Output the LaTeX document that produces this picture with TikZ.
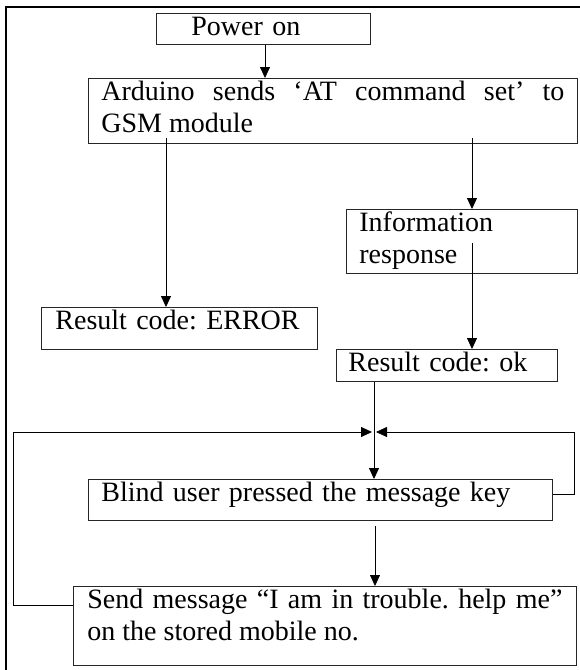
\documentclass[tikz,border=0pt]{standalone}
\usepackage{fontspec}
\setmainfont{Liberation Serif}
\usetikzlibrary{arrows.meta}
\frenchspacing
\hyphenpenalty=10000

\tikzset{
  stepbox/.style={draw=black!85, line width=0.8pt, anchor=north west,
    inner ysep=3pt, text height=19pt, align=left,
    font=\fontsize{28}{32}\selectfont},
  flow/.style={draw, line width=0.8pt, -{Triangle[length=11pt,width=10pt]}}
}

\begin{document}
\begin{tikzpicture}[x=1pt,y=-1pt]
  \useasboundingbox (0,0) rectangle (579,670);
  % outer frame, open at the right and bottom
  \draw[line width=2pt] (6,690) -- (6,7) -- (600,7);

  % the steps
  \node[stepbox, inner xsep=35pt, text width=144pt, text depth=6pt] (power) at (156,13) {Power on};
  \node[stepbox, inner xsep=13pt, text width=463pt, text depth=40pt, align=justify] (arduino) at (88,78)
    {Arduino sends ‘AT command set’ to\linebreak GSM module};
  \node[stepbox, inner xsep=14pt, text width=248pt, text depth=17pt] (error) at (41,307) {Result code: ERROR};
  \node[stepbox, inner xsep=13pt, text width=205pt, text depth=39pt] (info) at (346,209) {Information\\response};
  \node[stepbox, inner xsep=12pt, text width=197pt, text depth=7pt] (ok) at (336,349) {Result code: ok};
  \node[stepbox, inner xsep=13pt, text width=438pt, text depth=16pt] (blind) at (88,479) {Blind user pressed the message key};
  \node[stepbox, inner xsep=14pt, text width=475pt, text depth=54pt, align=justify] (send) at (73,586)
    {Send message “I am in trouble. help me”\linebreak on the stored mobile no.};

  % where the two loops come back in
  \coordinate (join) at (374,432);
  \coordinate (leftrail) at (13,432);
  \coordinate (rightrail) at (574,432);

  % straight arrows
  \draw[flow] ([xshift=109pt]power.south west) -- ([xshift=177pt]arduino.north west);
  \draw[flow] ([xshift=78pt,yshift=6pt]arduino.south west) -- ([xshift=125pt]error.north west);
  \draw[flow] ([xshift=384pt,yshift=6pt]arduino.south west) -- ([xshift=126pt]info.north west);
  \draw[flow] ([xshift=126pt,yshift=31pt]info.south west) -- ([xshift=136pt]ok.north west);
  \draw[flow] ([xshift=38pt]ok.south west) -- ([xshift=286pt]blind.north west);
  \draw[flow] ([xshift=287pt,yshift=-5pt]blind.south west) -- ([xshift=302pt]send.north west);

  % loops back to the key press
  \draw[flow, shorten >=2pt] ([yshift=-19pt]send.north west) -| (leftrail) -- (join);
  \draw[flow, shorten >=2pt] ([yshift=-15pt]blind.north east) -| (rightrail) -- (join);
\end{tikzpicture}
\end{document}
